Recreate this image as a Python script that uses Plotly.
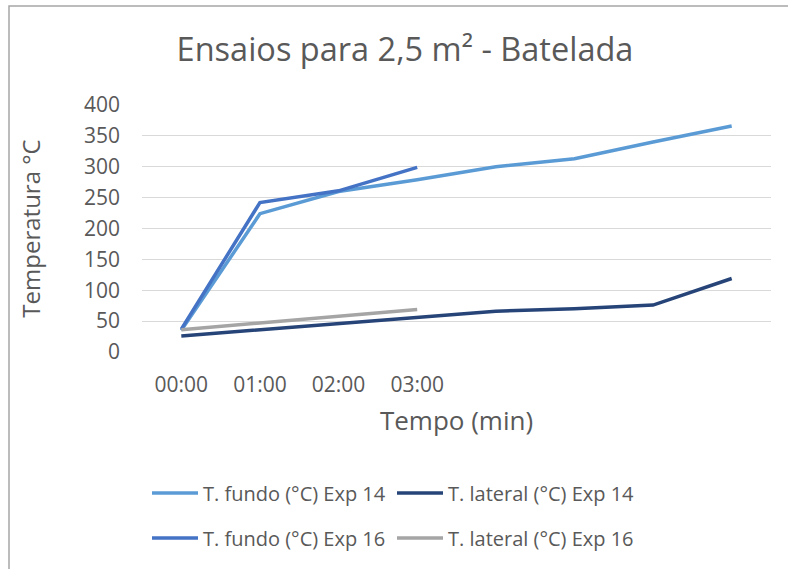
import plotly.graph_objects as go

# ---- data ----
time_labels = ["00:00", "01:00", "02:00", "03:00"]
idx14 = [0, 1, 2, 3, 4, 5, 6, 7]
idx16 = [0, 1, 2, 3]
fundo_exp14 = [35, 224, 260, 279, 300, 313, 340, 366]
lateral_exp14 = [26, 36, 46, 56, 66, 70, 76, 119]
fundo_exp16 = [37, 242, 261, 299]
lateral_exp16 = [36, 47, 58, 69]

names = ["T. fundo (°C) Exp 14", "T. lateral (°C) Exp 14",
         "T. fundo (°C) Exp 16", "T. lateral (°C) Exp 16"]
colors = ["#5B9BD5", "#264478", "#4472C4", "#A5A5A5"]

FONT = "Open Sans"
TXT = "#595959"

W, H = 788, 569
L, R, T, B = 142, 17, 105, 217
pw, ph = W - L - R, H - T - B

def px_to_paper_x(px):
    return (px - L) / pw

def px_to_paper_y(py):
    return (H - B - py) / ph

fig = go.Figure()
series = [(idx14, fundo_exp14), (idx14, lateral_exp14),
          (idx16, fundo_exp16), (idx16, lateral_exp16)]
legend_ids = ["legend", "legend2", "legend3", "legend4"]
for (xs, ys), name, col, lg in zip(series, names, colors, legend_ids):
    fig.add_trace(go.Scatter(x=xs, y=ys, mode="lines", name=name,
                             line=dict(color=col, width=3.5),
                             legend=lg))

leg_pos = {"legend": (147, 493), "legend2": (392, 493),
           "legend3": (147, 538), "legend4": (392, 538)}
legend_layouts = {}
for lg, (lx, ly) in leg_pos.items():
    legend_layouts[lg] = dict(
        x=px_to_paper_x(lx), y=px_to_paper_y(ly), xanchor="left", yanchor="middle",
        orientation="h", bgcolor="rgba(0,0,0,0)", borderwidth=0,
        font=dict(family=FONT, size=20, color=TXT), itemwidth=46,
    )

fig.update_layout(
    width=W, height=H,
    margin=dict(l=L, r=R, t=T, b=B),
    paper_bgcolor="white", plot_bgcolor="white",
    title=dict(text="Ensaios para 2,5 m² - Batelada", x=405 / W,
               xanchor="center", y=1 - 50 / H, yanchor="middle",
               font=dict(family=FONT, size=32.5, color=TXT)),
    xaxis=dict(range=[-0.5, 7.5], tickvals=idx16, ticktext=time_labels,
               showgrid=False, zeroline=False, showline=False, ticks="",
               tickfont=dict(family=FONT, size=21, color=TXT),
               ticklabelstandoff=18,
               title=dict(text="Tempo (min)", font=dict(family=FONT, size=26, color=TXT),
                          standoff=14)),
    yaxis=dict(range=[0, 400], dtick=50, showgrid=True, gridcolor="#D9D9D9", gridwidth=1,
               zeroline=False, showline=False, ticks="",
               tickfont=dict(family=FONT, size=21, color=TXT),
               ticklabelstandoff=21,
               title=dict(text="Temperatura °C", font=dict(family=FONT, size=24, color=TXT),
                          standoff=36)),
    showlegend=True,
    shapes=[dict(type="rect", xref="paper", yref="paper",
                 x0=px_to_paper_x(9), x1=px_to_paper_x(820),
                 y0=px_to_paper_y(620), y1=px_to_paper_y(6),
                 line=dict(color="#A6A6A6", width=1.5), fillcolor="rgba(0,0,0,0)",
                 layer="above")],
    **legend_layouts,
)

fig.write_html("out.html", config={"displayModeBar": False},
               post_script="document.body.style.margin='0';")
